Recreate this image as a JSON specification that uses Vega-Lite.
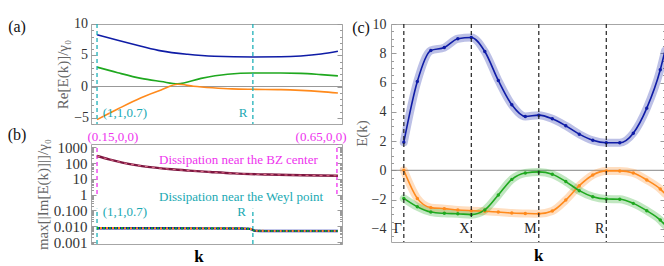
{
  "$schema": "https://vega.github.io/schema/vega-lite/v6.json",
  "autosize": {"type": "pad"},
  "padding": {"left": 7, "top": 16, "right": 1, "bottom": 0},
  "background": "white",
  "config": {
    "font": "Liberation Serif",
    "view": {"stroke": "#a6a6a6", "strokeWidth": 1},
    "axis": {"labelFont": "Liberation Serif", "titleFont": "Liberation Serif", "labelFontSize": 14, "titleFontSize": 15, "labelColor": "#333333", "titleColor": "#666666", "titleFontWeight": "normal", "domain": false, "grid": false, "tickColor": "#9a9a9a", "labelOverlap": false},
    "text": {"font": "Liberation Serif"}
  },
  "datasets": {
    "a": [
      {"t": 0, "v": 8.3, "s": "blue"}, {"t": 8.6, "v": 7.4, "s": "blue"}, {"t": 18.3, "v": 6.45, "s": "blue"}, {"t": 26.6, "v": 5.7, "s": "blue"}, {"t": 37.6, "v": 5.15, "s": "blue"}, {"t": 48.7, "v": 4.84, "s": "blue"}, {"t": 64.8, "v": 4.73, "s": "blue"}, {"t": 76.3, "v": 4.75, "s": "blue"}, {"t": 84.6, "v": 4.88, "s": "blue"}, {"t": 93, "v": 5.2, "s": "blue"}, {"t": 100, "v": 5.65, "s": "blue"},
      {"t": 0, "v": 3.1, "s": "green"}, {"t": 8.6, "v": 2.2, "s": "green"}, {"t": 18.3, "v": 1.3, "s": "green"}, {"t": 26.6, "v": 0.8, "s": "green"}, {"t": 33.5, "v": 0.42, "s": "green"}, {"t": 43.2, "v": 1.3, "s": "green"}, {"t": 54.2, "v": 1.95, "s": "green"}, {"t": 64.8, "v": 2.15, "s": "green"}, {"t": 76.3, "v": 2.15, "s": "green"}, {"t": 84.6, "v": 2.1, "s": "green"}, {"t": 93, "v": 1.9, "s": "green"}, {"t": 100, "v": 1.7, "s": "green"},
      {"t": 0, "v": -5.3, "s": "orange"}, {"t": 8.6, "v": -3.6, "s": "orange"}, {"t": 18.3, "v": -1.8, "s": "orange"}, {"t": 26.6, "v": -0.55, "s": "orange"}, {"t": 33.5, "v": 0.35, "s": "orange"}, {"t": 40, "v": 0.05, "s": "orange"}, {"t": 48, "v": -0.2, "s": "orange"}, {"t": 56, "v": -0.38, "s": "orange"}, {"t": 64.8, "v": -0.45, "s": "orange"}, {"t": 76.3, "v": -0.5, "s": "orange"}, {"t": 84.6, "v": -0.62, "s": "orange"}, {"t": 93, "v": -0.82, "s": "orange"}, {"t": 100, "v": -1.05, "s": "orange"}
    ],
    "a_rules": [{"t": 0}, {"t": 64.7}],
    "a_text": [{"t": 11.6, "v": -4.2, "label": "(1,1,0.7)"}, {"t": 60.6, "v": -4.2, "label": "R"}],
    "a_panel": [{"t": -33.2, "v": 9.5, "label": "(a)"}],
    "a_ticklabels": [{"t": -6.6, "v": 10, "label": "10"}, {"t": -5.2, "v": 5, "label": "5"}, {"t": -5.2, "v": 0, "label": "0"}, {"t": -6.4, "v": -5, "label": "−5"}],
    "b": [
      {"t": 0, "v": 280, "s": "center"}, {"t": 5, "v": 170, "s": "center"}, {"t": 10.5, "v": 106, "s": "center"}, {"t": 17.4, "v": 69, "s": "center"}, {"t": 24.2, "v": 51, "s": "center"}, {"t": 31, "v": 40, "s": "center"}, {"t": 38.2, "v": 33, "s": "center"}, {"t": 47, "v": 27, "s": "center"}, {"t": 56.8, "v": 22, "s": "center"}, {"t": 71, "v": 18.6, "s": "center"}, {"t": 85, "v": 16.8, "s": "center"}, {"t": 100, "v": 15.5, "s": "center"},
      {"t": 0, "v": 0.0075, "s": "weyl"}, {"t": 30, "v": 0.0074, "s": "weyl"}, {"t": 60, "v": 0.0072, "s": "weyl"}, {"t": 63.5, "v": 0.0068, "s": "weyl"}, {"t": 65.5, "v": 0.0052, "s": "weyl"}, {"t": 70, "v": 0.005, "s": "weyl"}, {"t": 85, "v": 0.005, "s": "weyl"}, {"t": 100, "v": 0.005, "s": "weyl"}
    ],
    "b_mrules": [{"t": 0, "lo": 1.1, "hi": 1000}, {"t": 99.6, "lo": 1.1, "hi": 1600}],
    "b_crules": [{"t": 0, "lo": 0.00075, "hi": 0.13}, {"t": 64.7, "lo": 0.00075, "hi": 0.13}],
    "b_text": [
      {"t": 6.6, "v": 4200, "label": "(0.15,0,0)", "g": "center"},
      {"t": 93, "v": 4200, "label": "(0.65,0,0)", "g": "center"},
      {"t": 58.7, "v": 165, "label": "Dissipation near the BZ center", "g": "center"},
      {"t": 59.8, "v": 0.71, "label": "Dissipation near the Weyl point", "g": "weyl"},
      {"t": 11.6, "v": 0.076, "label": "(1,1,0.7)", "g": "weyl"},
      {"t": 60, "v": 0.076, "label": "R", "g": "weyl"}
    ],
    "b_panel": [{"t": -33.2, "v": 5700, "label": "(b)"}],
    "b_k": [{"t": 42.3, "v": 0.00012, "label": "k"}],
    "c": [
      {"t": 0, "v": 1.92, "s": "blue"}, {"t": 0.2, "v": 6.07, "s": "blue"}, {"t": 0.4, "v": 8.19, "s": "blue"}, {"t": 0.6, "v": 8.39, "s": "blue"}, {"t": 0.8, "v": 8.99, "s": "blue"}, {"t": 1.0, "v": 9.08, "s": "blue"}, {"t": 1.2, "v": 8.12, "s": "blue"}, {"t": 1.4, "v": 6.14, "s": "blue"}, {"t": 1.6, "v": 4.48, "s": "blue"}, {"t": 1.8, "v": 3.68, "s": "blue"}, {"t": 2.0, "v": 3.77, "s": "blue"}, {"t": 2.2, "v": 3.52, "s": "blue"}, {"t": 2.4, "v": 3.04, "s": "blue"}, {"t": 2.6, "v": 2.47, "s": "blue"}, {"t": 2.8, "v": 2.05, "s": "blue"}, {"t": 3.0, "v": 1.88, "s": "blue"}, {"t": 3.2, "v": 1.88, "s": "blue"}, {"t": 3.4, "v": 2.54, "s": "blue"}, {"t": 3.6, "v": 4.25, "s": "blue"}, {"t": 3.8, "v": 6.87, "s": "blue"}, {"t": 3.87, "v": 8.17, "s": "blue"},
      {"t": 0, "v": 0, "s": "orange"}, {"t": 0.2, "v": -1.92, "s": "orange"}, {"t": 0.4, "v": -2.55, "s": "orange"}, {"t": 0.6, "v": -2.62, "s": "orange"}, {"t": 0.8, "v": -2.71, "s": "orange"}, {"t": 1.0, "v": -2.76, "s": "orange"}, {"t": 1.2, "v": -2.8, "s": "orange"}, {"t": 1.4, "v": -2.85, "s": "orange"}, {"t": 1.6, "v": -2.92, "s": "orange"}, {"t": 1.8, "v": -2.95, "s": "orange"}, {"t": 2.0, "v": -2.97, "s": "orange"}, {"t": 2.2, "v": -2.78, "s": "orange"}, {"t": 2.4, "v": -2.03, "s": "orange"}, {"t": 2.6, "v": -1.05, "s": "orange"}, {"t": 2.8, "v": -0.32, "s": "orange"}, {"t": 3.0, "v": -0.04, "s": "orange"}, {"t": 3.2, "v": -0.04, "s": "orange"}, {"t": 3.4, "v": -0.18, "s": "orange"}, {"t": 3.6, "v": -0.66, "s": "orange"}, {"t": 3.8, "v": -1.28, "s": "orange"}, {"t": 3.87, "v": -1.6, "s": "orange"},
      {"t": 0, "v": -1.92, "s": "green"}, {"t": 0.2, "v": -2.49, "s": "green"}, {"t": 0.4, "v": -2.85, "s": "green"}, {"t": 0.6, "v": -2.94, "s": "green"}, {"t": 0.8, "v": -2.97, "s": "green"}, {"t": 1.0, "v": -3.03, "s": "green"}, {"t": 1.2, "v": -2.71, "s": "green"}, {"t": 1.4, "v": -1.69, "s": "green"}, {"t": 1.6, "v": -0.62, "s": "green"}, {"t": 1.8, "v": -0.18, "s": "green"}, {"t": 2.0, "v": -0.11, "s": "green"}, {"t": 2.2, "v": -0.27, "s": "green"}, {"t": 2.4, "v": -0.77, "s": "green"}, {"t": 2.6, "v": -1.39, "s": "green"}, {"t": 2.8, "v": -1.8, "s": "green"}, {"t": 3.0, "v": -1.96, "s": "green"}, {"t": 3.2, "v": -1.98, "s": "green"}, {"t": 3.4, "v": -2.26, "s": "green"}, {"t": 3.6, "v": -2.76, "s": "green"}, {"t": 3.8, "v": -3.4, "s": "green"}, {"t": 3.87, "v": -3.74, "s": "green"}
    ],
    "c_rules": [{"t": 0, "v": -4, "label": "Γ"}, {"t": 1, "v": -4, "label": "X"}, {"t": 2, "v": -4, "label": "M"}, {"t": 3, "v": -4, "label": "R"}],
    "c_panel": [{"t": -0.634, "v": 9.76, "label": "(c)"}],
    "c_k": [{"t": 2.0, "v": -5.86, "label": "k"}]
  },
  "spacing": 4,
  "hconcat": [
    {
      "spacing": 20,
      "bounds": "flush",
      "vconcat": [
        {
          "width": 251,
          "height": 100,
          "resolve": {"axis": {"y": "independent"}},
          "layer": [
            {
              "data": {"values": [{"v": 0}]},
              "mark": {"type": "rule", "color": "#999999", "strokeWidth": 1},
              "encoding": {
                "y": {"field": "v", "type": "quantitative", "scale": {"domain": [-6, 10], "nice": false, "zero": false},
                  "axis": {"orient": "right", "labels": false, "title": null, "values": [-6,-5,-4,-3,-2,-1,0,1,2,3,4,5,6,7,8,9,10], "tickSize": {"condition": {"test": "datum.value % 5 === 0", "value": -5}, "value": -2.5}}}
              }
            },
            {
              "data": {"name": "a"},
              "mark": {"type": "line", "interpolate": "monotone", "strokeWidth": 1.6},
              "encoding": {
                "x": {"field": "t", "type": "quantitative", "scale": {"domain": [-2.5, 101.7], "nice": false, "zero": false}, "axis": null},
                "y": {"field": "v", "type": "quantitative", "scale": {"domain": [-6, 10], "nice": false, "zero": false},
                  "axis": {"orient": "left", "title": "Re[E(k)]/γ₀", "values": [-6,-5,-4,-3,-2,-1,0,1,2,3,4,5,6,7,8,9,10], "labels": false, "tickSize": {"condition": {"test": "datum.value % 5 === 0", "value": -5}, "value": -2.5}, "titlePadding": 20}},
                "color": {"field": "s", "type": "nominal", "scale": {"domain": ["blue", "green", "orange"], "range": ["#0f1ca6", "#1fa81f", "#ff8a1c"]}, "legend": null}
              }
            },
            {
              "data": {"name": "a_rules"},
              "mark": {"type": "rule", "color": "#1fb0b8", "strokeDash": [4, 3], "strokeWidth": 1.3},
              "encoding": {"x": {"field": "t", "type": "quantitative", "scale": {"domain": [-2.5, 101.7], "nice": false, "zero": false}, "axis": null}}
            },
            {
              "data": {"name": "a_text"},
              "mark": {"type": "text", "color": "#1aa9b3", "fontSize": 13, "baseline": "middle", "align": "center"},
              "encoding": {
                "x": {"field": "t", "type": "quantitative", "scale": {"domain": [-2.5, 101.7], "nice": false, "zero": false}, "axis": null},
                "y": {"field": "v", "type": "quantitative", "scale": {"domain": [-6, 10], "nice": false, "zero": false}, "axis": null},
                "text": {"field": "label"}
              }
            },
            {
              "data": {"name": "a_panel"},
              "mark": {"type": "text", "color": "#111111", "fontSize": 16, "baseline": "middle", "align": "center"},
              "encoding": {
                "x": {"field": "t", "type": "quantitative", "scale": {"domain": [-2.5, 101.7], "nice": false, "zero": false}, "axis": null},
                "y": {"field": "v", "type": "quantitative", "scale": {"domain": [-6, 10], "nice": false, "zero": false}, "axis": null},
                "text": {"field": "label"}
              }
            },
            {
              "data": {"name": "a_ticklabels"},
              "mark": {"type": "text", "color": "#333333", "fontSize": 14, "baseline": "middle", "align": "center"},
              "encoding": {
                "x": {"field": "t", "type": "quantitative", "scale": {"domain": [-2.5, 101.7], "nice": false, "zero": false}, "axis": null},
                "y": {"field": "v", "type": "quantitative", "scale": {"domain": [-6, 10], "nice": false, "zero": false}, "axis": null},
                "text": {"field": "label"}
              }
            }
          ]
        },
        {
          "width": 251,
          "height": 100,
          "resolve": {"axis": {"y": "independent"}},
          "layer": [
            {
              "data": {"name": "b_mrules"},
              "mark": {"type": "rule", "color": "#ee33ee", "strokeDash": [4, 3], "strokeWidth": 1.3},
              "encoding": {
                "x": {"field": "t", "type": "quantitative", "scale": {"domain": [-2.5, 101.7], "nice": false, "zero": false}, "axis": null},
                "y": {"field": "lo", "type": "quantitative", "scale": {"type": "log", "domain": [0.00075, 1600], "nice": false},
                  "axis": {"orient": "right", "labels": false, "title": null, "values": [0.0008,0.0009,0.001,0.002,0.003,0.004,0.005,0.006,0.007,0.008,0.009,0.01,0.02,0.03,0.04,0.05,0.06,0.07,0.08,0.09,0.1,0.2,0.3,0.4,0.5,0.6,0.7,0.8,0.9,1,2,3,4,5,6,7,8,9,10,20,30,40,50,60,70,80,90,100,200,300,400,500,600,700,800,900,1000], "tickSize": {"condition": {"test": "indexof([0.001,0.01,0.1,1,10,100,1000], datum.value) >= 0", "value": -5}, "value": -2.5}}},
                "y2": {"field": "hi"}
              }
            },
            {
              "data": {"name": "b_crules"},
              "mark": {"type": "rule", "color": "#1fb0b8", "strokeDash": [4, 3], "strokeWidth": 1.3},
              "encoding": {
                "x": {"field": "t", "type": "quantitative", "scale": {"domain": [-2.5, 101.7], "nice": false, "zero": false}, "axis": null},
                "y": {"field": "lo", "type": "quantitative", "scale": {"type": "log", "domain": [0.00075, 1600], "nice": false}, "axis": null},
                "y2": {"field": "hi"}
              }
            },
            {
              "data": {"name": "b"},
              "transform": [{"filter": "datum.s === 'center'"}],
              "mark": {"type": "line", "interpolate": "monotone", "strokeWidth": 2.4, "color": "#7d1640"},
              "encoding": {
                "x": {"field": "t", "type": "quantitative", "scale": {"domain": [-2.5, 101.7], "nice": false, "zero": false}, "axis": null},
                "y": {"field": "v", "type": "quantitative", "scale": {"type": "log", "domain": [0.00075, 1600], "nice": false},
                  "axis": {"orient": "left", "title": "max[|Im[E(k)]|]/γ₀", "labelFontSize": 15, "values": [0.0008,0.0009,0.001,0.002,0.003,0.004,0.005,0.006,0.007,0.008,0.009,0.01,0.02,0.03,0.04,0.05,0.06,0.07,0.08,0.09,0.1,0.2,0.3,0.4,0.5,0.6,0.7,0.8,0.9,1,2,3,4,5,6,7,8,9,10,20,30,40,50,60,70,80,90,100,200,300,400,500,600,700,800,900,1000], "labelExpr": "indexof([0.001,0.01,0.1,1,10,100,1000], datum.value) >= 0 ? (datum.value >= 1 ? format(datum.value, 'd') : format(datum.value, '.3f')) : ''", "tickSize": {"condition": {"test": "indexof([0.001,0.01,0.1,1,10,100,1000], datum.value) >= 0", "value": -5}, "value": -2.5}, "labelPadding": 9, "titlePadding": 3}}
              }
            },
            {
              "data": {"name": "b"},
              "transform": [{"filter": "datum.s === 'center'"}],
              "mark": {"type": "line", "interpolate": "monotone", "strokeWidth": 1, "color": "#e0708a", "strokeDash": [3, 4]},
              "encoding": {
                "x": {"field": "t", "type": "quantitative", "scale": {"domain": [-2.5, 101.7], "nice": false, "zero": false}, "axis": null},
                "y": {"field": "v", "type": "quantitative", "scale": {"type": "log", "domain": [0.00075, 1600], "nice": false}, "axis": null}
              }
            },
            {
              "data": {"name": "b"},
              "transform": [{"filter": "datum.s === 'weyl'"}],
              "mark": {"type": "line", "interpolate": "monotone", "strokeWidth": 2.4, "color": "#0f1ca6"},
              "encoding": {
                "x": {"field": "t", "type": "quantitative", "scale": {"domain": [-2.5, 101.7], "nice": false, "zero": false}, "axis": null},
                "y": {"field": "v", "type": "quantitative", "scale": {"type": "log", "domain": [0.00075, 1600], "nice": false}, "axis": null}
              }
            },
            {
              "data": {"name": "b"},
              "transform": [{"filter": "datum.s === 'weyl'"}],
              "mark": {"type": "line", "interpolate": "monotone", "strokeWidth": 2.2, "color": "#1fa81f", "strokeDash": [2, 4]},
              "encoding": {
                "x": {"field": "t", "type": "quantitative", "scale": {"domain": [-2.5, 101.7], "nice": false, "zero": false}, "axis": null},
                "y": {"field": "v", "type": "quantitative", "scale": {"type": "log", "domain": [0.00075, 1600], "nice": false}, "axis": null}
              }
            },
            {
              "data": {"name": "b"},
              "transform": [{"filter": "datum.s === 'weyl'"}],
              "mark": {"type": "line", "interpolate": "monotone", "strokeWidth": 2.2, "color": "#ff8a1c", "strokeDash": [2, 4], "strokeDashOffset": 3},
              "encoding": {
                "x": {"field": "t", "type": "quantitative", "scale": {"domain": [-2.5, 101.7], "nice": false, "zero": false}, "axis": null},
                "y": {"field": "v", "type": "quantitative", "scale": {"type": "log", "domain": [0.00075, 1600], "nice": false}, "axis": null}
              }
            },
            {
              "data": {"name": "b_text"},
              "transform": [{"filter": "datum.g === 'center'"}],
              "mark": {"type": "text", "fontSize": 13, "baseline": "middle", "align": "center", "color": "#ee33ee"},
              "encoding": {
                "x": {"field": "t", "type": "quantitative", "scale": {"domain": [-2.5, 101.7], "nice": false, "zero": false}, "axis": null},
                "y": {"field": "v", "type": "quantitative", "scale": {"type": "log", "domain": [0.00075, 1600], "nice": false}, "axis": null},
                "text": {"field": "label"}
              }
            },
            {
              "data": {"name": "b_text"},
              "transform": [{"filter": "datum.g === 'weyl'"}],
              "mark": {"type": "text", "fontSize": 13, "baseline": "middle", "align": "center", "color": "#1aa9b3"},
              "encoding": {
                "x": {"field": "t", "type": "quantitative", "scale": {"domain": [-2.5, 101.7], "nice": false, "zero": false}, "axis": null},
                "y": {"field": "v", "type": "quantitative", "scale": {"type": "log", "domain": [0.00075, 1600], "nice": false}, "axis": null},
                "text": {"field": "label"}
              }
            },
            {
              "data": {"name": "b_panel"},
              "mark": {"type": "text", "color": "#111111", "fontSize": 16, "baseline": "middle", "align": "center"},
              "encoding": {
                "x": {"field": "t", "type": "quantitative", "scale": {"domain": [-2.5, 101.7], "nice": false, "zero": false}, "axis": null},
                "y": {"field": "v", "type": "quantitative", "scale": {"type": "log", "domain": [0.00075, 1600], "nice": false}, "axis": null},
                "text": {"field": "label"}
              }
            },
            {
              "data": {"name": "b_k"},
              "mark": {"type": "text", "color": "#000000", "fontSize": 17, "fontWeight": "bold", "baseline": "middle", "align": "center"},
              "encoding": {
                "x": {"field": "t", "type": "quantitative", "scale": {"domain": [-2.5, 101.7], "nice": false, "zero": false}, "axis": null},
                "y": {"field": "v", "type": "quantitative", "scale": {"type": "log", "domain": [0.00075, 1600], "nice": false}, "axis": null},
                "text": {"field": "label"}
              }
            }
          ]
        }
      ]
    },
    {
      "width": 274,
      "height": 218,
      "resolve": {"axis": {"y": "independent"}},
      "layer": [
        {
          "data": {"values": [{"v": 0}]},
          "mark": {"type": "rule", "color": "#888888", "strokeWidth": 1},
          "encoding": {
            "y": {"field": "v", "type": "quantitative", "scale": {"domain": [-4.9, 10], "nice": false, "zero": false},
              "axis": {"orient": "right", "labels": false, "title": null, "values": [-4.5,-4,-3.5,-3,-2.5,-2,-1.5,-1,-0.5,0,0.5,1,1.5,2,2.5,3,3.5,4,4.5,5,5.5,6,6.5,7,7.5,8,8.5,9,9.5,10], "tickSize": {"condition": {"test": "datum.value % 2 === 0", "value": -5}, "value": -2.5}}}
          }
        },
        {
          "data": {"name": "c"},
          "mark": {"type": "line", "interpolate": "monotone", "strokeWidth": 8, "opacity": 0.28, "strokeCap": "round"},
          "encoding": {
            "x": {"field": "t", "type": "quantitative", "scale": {"domain": [-0.19, 3.87], "nice": false, "zero": false}, "axis": null},
            "y": {"field": "v", "type": "quantitative", "scale": {"domain": [-4.9, 10], "nice": false, "zero": false},
              "axis": {"orient": "left", "title": "E(k)", "values": [-4.5,-4,-3.5,-3,-2.5,-2,-1.5,-1,-0.5,0,0.5,1,1.5,2,2.5,3,3.5,4,4.5,5,5.5,6,6.5,7,7.5,8,8.5,9,9.5,10], "labelExpr": "datum.value % 2 === 0 ? format(datum.value, 'd') : ''", "tickSize": {"condition": {"test": "datum.value % 2 === 0", "value": -5}, "value": -2.5}, "labelPadding": 10, "titlePadding": 2}},
            "color": {"field": "s", "type": "nominal", "scale": {"domain": ["blue", "green", "orange"], "range": ["#0f1ca6", "#1fa81f", "#ff8a1c"]}, "legend": null}
          }
        },
        {
          "data": {"name": "c"},
          "mark": {"type": "line", "interpolate": "monotone", "strokeWidth": 1.6},
          "encoding": {
            "x": {"field": "t", "type": "quantitative", "scale": {"domain": [-0.19, 3.87], "nice": false, "zero": false}, "axis": null},
            "y": {"field": "v", "type": "quantitative", "scale": {"domain": [-4.9, 10], "nice": false, "zero": false}, "axis": null},
            "color": {"field": "s", "type": "nominal", "scale": {"domain": ["blue", "green", "orange"], "range": ["#0f1ca6", "#1fa81f", "#ff8a1c"]}, "legend": null}
          }
        },
        {
          "data": {"name": "c"},
          "transform": [{"filter": "datum.t < 3.85"}],
          "mark": {"type": "circle", "size": 12, "opacity": 1},
          "encoding": {
            "x": {"field": "t", "type": "quantitative", "scale": {"domain": [-0.19, 3.87], "nice": false, "zero": false}, "axis": null},
            "y": {"field": "v", "type": "quantitative", "scale": {"domain": [-4.9, 10], "nice": false, "zero": false}, "axis": null},
            "color": {"field": "s", "type": "nominal", "scale": {"domain": ["blue", "green", "orange"], "range": ["#0f1ca6", "#1fa81f", "#ff8a1c"]}, "legend": null}
          }
        },
        {
          "data": {"name": "c_rules"},
          "mark": {"type": "rule", "color": "#222222", "strokeDash": [4, 3], "strokeWidth": 1.2},
          "encoding": {"x": {"field": "t", "type": "quantitative", "scale": {"domain": [-0.19, 3.87], "nice": false, "zero": false}, "axis": null}}
        },
        {
          "data": {"name": "c_rules"},
          "mark": {"type": "text", "fontSize": 14, "align": "right", "baseline": "middle", "dx": -2, "color": "#222222"},
          "encoding": {
            "x": {"field": "t", "type": "quantitative", "scale": {"domain": [-0.19, 3.87], "nice": false, "zero": false}, "axis": null},
            "y": {"field": "v", "type": "quantitative", "scale": {"domain": [-4.9, 10], "nice": false, "zero": false}, "axis": null},
            "text": {"field": "label"}
          }
        },
        {
          "data": {"name": "c_panel"},
          "mark": {"type": "text", "color": "#111111", "fontSize": 16, "baseline": "middle", "align": "center"},
          "encoding": {
            "x": {"field": "t", "type": "quantitative", "scale": {"domain": [-0.19, 3.87], "nice": false, "zero": false}, "axis": null},
            "y": {"field": "v", "type": "quantitative", "scale": {"domain": [-4.9, 10], "nice": false, "zero": false}, "axis": null},
            "text": {"field": "label"}
          }
        },
        {
          "data": {"name": "c_k"},
          "mark": {"type": "text", "color": "#000000", "fontSize": 17, "fontWeight": "bold", "baseline": "middle", "align": "center"},
          "encoding": {
            "x": {"field": "t", "type": "quantitative", "scale": {"domain": [-0.19, 3.87], "nice": false, "zero": false}, "axis": null},
            "y": {"field": "v", "type": "quantitative", "scale": {"domain": [-4.9, 10], "nice": false, "zero": false}, "axis": null},
            "text": {"field": "label"}
          }
        }
      ]
    }
  ]
}
